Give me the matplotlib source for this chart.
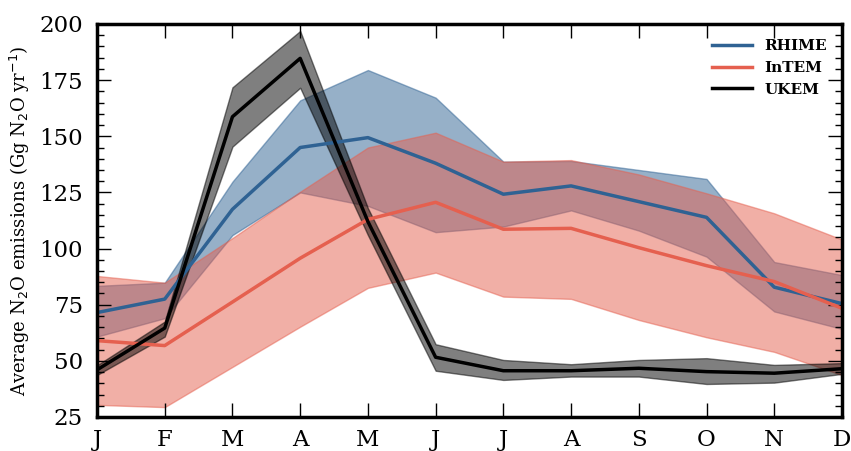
import matplotlib
matplotlib.use("Agg")
import matplotlib.pyplot as plt
from matplotlib.ticker import MultipleLocator

months = ["J", "F", "M", "A", "M", "J", "J", "A", "S", "O", "N", "D"]

rhime_mean = [71.5, 77.5, 117.5, 145, 149.4, 138, 124.2, 127.9, 120.9, 113.9, 82.8, 75.5]
rhime_upper = [83.4, 84.8, 129.8, 166, 179.5, 167.2, 138.7, 139, 135, 131, 94, 88.2]
rhime_lower = [60.8, 69, 106, 125, 119, 107.3, 109.8, 117, 108, 96.4, 72, 64.2]

intem_mean = [59, 56.8, 76.2, 95.7, 113, 120.6, 108.6, 109, 100.4, 92.4, 85.3, 73.4]
intem_upper = [87.8, 84.8, 104.7, 125.3, 145, 151.6, 138.7, 139.4, 133, 124.6, 115.7, 104]
intem_lower = [30.4, 29.4, 47.3, 65.2, 82.5, 89.3, 78.6, 77.6, 68.2, 60.5, 54, 43.7]

ukem_mean = [46, 64.6, 158.7, 184.7, 112, 51.6, 45.6, 45.6, 46.7, 45.2, 44.5, 46.5]
ukem_upper = [48, 67.5, 171.8, 196.9, 118, 57.4, 50.4, 48.5, 50.4, 51.2, 48.2, 49]
ukem_lower = [43.7, 60.8, 145.4, 171.6, 106, 45.6, 41.5, 43, 43, 39.7, 40.3, 44.2]

plt.rcParams['font.family'] = ['DejaVu Serif']

fig = plt.figure(figsize=(8.51, 4.51), dpi=100)
ax = fig.add_axes([0.114, 0.0754, 0.8754, 0.8714])

x = list(range(len(months)))

series = [
    ("RHIME", rhime_mean, rhime_upper, rhime_lower, "#2f6293"),
    ("InTEM", intem_mean, intem_upper, intem_lower, "#e5604f"),
    ("UKEM", ukem_mean, ukem_upper, ukem_lower, "#000000"),
]

for name, m, u, l, c in series:
    ax.fill_between(x, l, u, facecolor=c, edgecolor=c, alpha=0.5, linewidth=1)
for name, m, u, l, c in series:
    ax.plot(x, m, color=c, lw=2.5, label=name)

ax.set_xlim(0, 11)
ax.set_ylim(25, 200)
ax.set_xticks(x)
ax.set_xticklabels(months, fontsize=16.5)
ax.yaxis.set_major_locator(MultipleLocator(25))
ax.yaxis.set_minor_locator(MultipleLocator(5))
ax.tick_params(axis='y', labelsize=16.5, pad=10)
ax.tick_params(axis='x', pad=9)
ax.tick_params(which='major', direction='in', length=10, width=1, top=True, right=True)
ax.tick_params(which='minor', direction='in', length=5, width=1, left=True, right=True)
ax.tick_params(axis='x', which='minor', bottom=False, top=False)
for s in ax.spines.values():
    s.set_linewidth(2.5)

ax.set_ylabel(r"Average N$_2$O emissions (Gg N$_2$O yr$^{-1}$)", fontsize=13, labelpad=5)

leg = ax.legend(loc='upper right', frameon=False, prop={'weight': 'bold', 'size': 11},
                handlelength=2.6, borderaxespad=0.6)

fig.savefig("out.png", dpi=100)
